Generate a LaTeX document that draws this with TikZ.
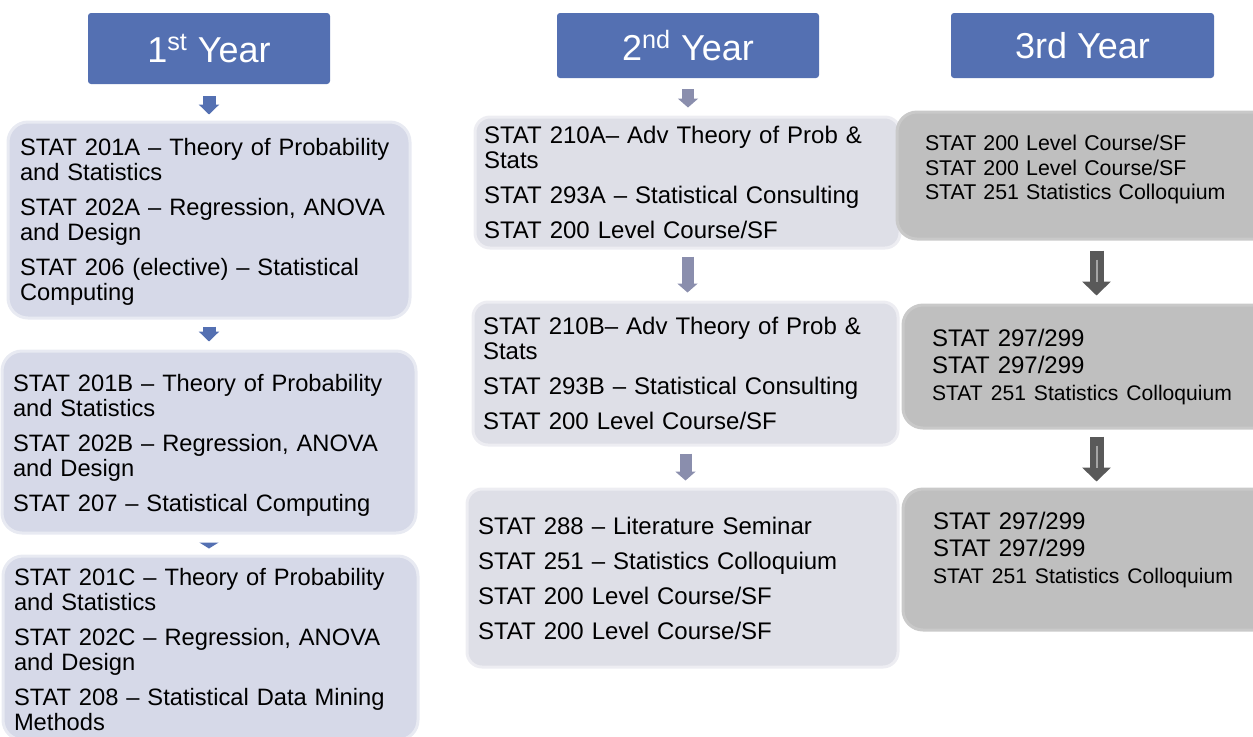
\documentclass[tikz,border=0pt]{standalone}
\usepackage{fontspec}
\setmainfont{Liberation Sans}
\usetikzlibrary{arrows.meta}
\definecolor{headblue}{RGB}{84,112,178}
\definecolor{firstfill}{RGB}{214,217,232}
\definecolor{secondfill}{RGB}{222,223,231}
\definecolor{thirdfill}{RGB}{191,191,191}
\definecolor{secondarrow}{RGB}{138,142,173}
\definecolor{thirdarrow}{RGB}{89,89,89}
\definecolor{thirdstreak}{RGB}{165,165,165}

\begin{document}
\begin{tikzpicture}[x=0.5pt, y=-0.5pt,
    yearhead/.style={fill=headblue, text=white, rounded corners=1.5pt,
        font=\fontsize{18}{20}\selectfont},
    coursebox/.style={align=left, inner ysep=0pt, line width=1.5pt,
        font=\fontsize{12}{12.5}\selectfont},
    firstbox/.style={coursebox, rounded corners=10pt, fill=firstfill, draw=firstfill!55!white,
        font=\fontsize{11.85}{12.5}\selectfont},
    secondbox/.style={coursebox, rounded corners=7.5pt, fill=secondfill, draw=secondfill!55!white},
    thirdbox/.style={coursebox, rounded corners=10pt, fill=thirdfill, draw=thirdfill!85!white},
    firstarrow/.style={draw=headblue, line width=6.5pt, -{Triangle[width=10pt,length=5pt]}},
    secondarrow/.style={draw=secondarrow, line width=6pt, -{Triangle[width=10pt,length=4.5pt]}},
    thirdarrow/.style={draw=thirdarrow, line width=7pt, -{Triangle[width=14pt,length=7pt]}},
    streak/.style={draw=thirdstreak, line width=1pt}]
   \useasboundingbox (0,0) rectangle (1253,736);
   \clip (0,0) rectangle (1253,736);

   % year headers
   \node[yearhead, minimum width=121pt, minimum height=35.5pt] (y_1) at (209,48.5) {1\textsuperscript{st} Year};
   \node[yearhead, minimum width=131pt, minimum height=32.5pt] (y_2) at (688,45.5) {2\textsuperscript{nd} Year};
   \node[yearhead, minimum width=131.5pt, minimum height=32.5pt] (y_3) at (1082.5,45.5) {3rd Year};

   % first year
   \node[firstbox, text width=189pt, inner xsep=6pt, minimum height=98pt] (f_1) at (209,220)
     {\rule{0pt}{10.8pt}STAT 201A – Theory of Probability\\ and Statistics\\[5pt]
      STAT 202A – Regression, ANOVA\\ and Design\\[5pt]
      STAT 206 (elective) – Statistical\\ Computing};
   \node[firstbox, text width=196pt, inner xsep=5.5pt, minimum height=91pt] (f_2) at (209,442)
     {\rule{0pt}{11.8pt}STAT 201B – Theory of Probability\\ and Statistics\\[5pt]
      STAT 202B – Regression, ANOVA\\ and Design\\[5pt]
      STAT 207 – Statistical Computing};
   \node[firstbox, text width=196.5pt, inner xsep=5.5pt, minimum height=92pt] (f_3) at (210.5,648)
     {\rule{0pt}{9.8pt}STAT 201C – Theory of Probability\\ and Statistics\\[5pt]
      STAT 202C – Regression, ANOVA\\ and Design\\[5pt]
      STAT 208 – Statistical Data Mining\\ Methods};

   % second year
   \node[secondbox, text width=203.5pt, inner xsep=4.5pt, minimum height=65.5pt] (s_1) at (687.5,182.5)
     {STAT 210A– Adv Theory of Prob \&\\ Stats\\[5pt]
      STAT 293A – Statistical Consulting\\[5pt]
      STAT 200 Level Course/SF};
   \node[secondbox, text width=202.5pt, inner xsep=5pt, minimum height=71.5pt] (s_2) at (685.5,373.5)
     {STAT 210B– Adv Theory of Prob \&\\ Stats\\[5pt]
      STAT 293B – Statistical Consulting\\[5pt]
      STAT 200 Level Course/SF};
   \node[secondbox, text width=204.5pt, inner xsep=5.5pt, minimum height=89pt] (s_3) at (682.5,578)
     {STAT 288 – Literature Seminar\\[5pt]
      STAT 251 – Statistics Colloquium\\[5pt]
      STAT 200 Level Course/SF\\[5pt]
      STAT 200 Level Course/SF};

   % third year
   \node[thirdbox, text width=171.5pt, inner xsep=14pt, minimum height=63.5pt,
         font=\fontsize{10.67}{12.25}\selectfont] (t_1) at (1096.5,175.5)
     {STAT 200 Level Course/SF\\
      STAT 200 Level Course/SF\\
      STAT 251 Statistics Colloquium\rule[-8pt]{0pt}{8pt}};
   \node[thirdbox, text width=164.5pt, inner xsep=14.5pt, minimum height=61.5pt,
         font=\fontsize{12}{13.5}\selectfont] (t_2) at (1096.5,366.5)
     {STAT 297/299\\
      STAT 297/299\\
      {\fontsize{10.55}{13}\selectfont STAT 251 Statistics Colloquium}};
   \node[thirdbox, text width=163.5pt, inner xsep=15pt, minimum height=70.5pt,
         font=\fontsize{12}{13.5}\selectfont] (t_3) at (1096.5,559.5)
     {STAT 297/299\\
      STAT 297/299\\
      {\fontsize{10.55}{13}\selectfont STAT 251 Statistics Colloquium}\rule[-11.7pt]{0pt}{11.7pt}};

   % arrows of the first year
   \draw[firstarrow, shorten <=6pt, shorten >=3pt] (y_1.south) -- (f_1.north);
   \draw[firstarrow, shorten <=3.5pt, shorten >=4pt] (f_1.south) -- (f_2.north);
   \draw[firstarrow, -{Triangle[width=9.5pt,length=3pt]}, shorten <=4pt, shorten >=3pt]
     (f_2.south) -- (f_2.south |- f_3.north);

   % arrows of the second year
   \draw[secondarrow, shorten <=5.5pt, shorten >=4pt] (y_2.south) -- (y_2.south |- s_1.north);
   \draw[secondarrow, shorten <=3.5pt, shorten >=4pt] (s_1.south) -- (s_1.south |- s_2.north);
   \draw[secondarrow, shorten <=3.5pt, shorten >=3.5pt] (s_2.south) -- (s_2.south |- s_3.north);

   % arrows of the third year
   \draw[thirdarrow, shorten <=5pt, shorten >=4pt] (t_1.south) -- (t_2.north);
   \draw[streak, shorten <=9.5pt, shorten >=11pt] (t_1.south) -- (t_2.north);
   \draw[thirdarrow, shorten <=3.5pt, shorten >=3pt] (t_2.south) -- (t_3.north);
   \draw[streak, shorten <=8pt, shorten >=10pt] (t_2.south) -- (t_3.north);
\end{tikzpicture}
\end{document}
